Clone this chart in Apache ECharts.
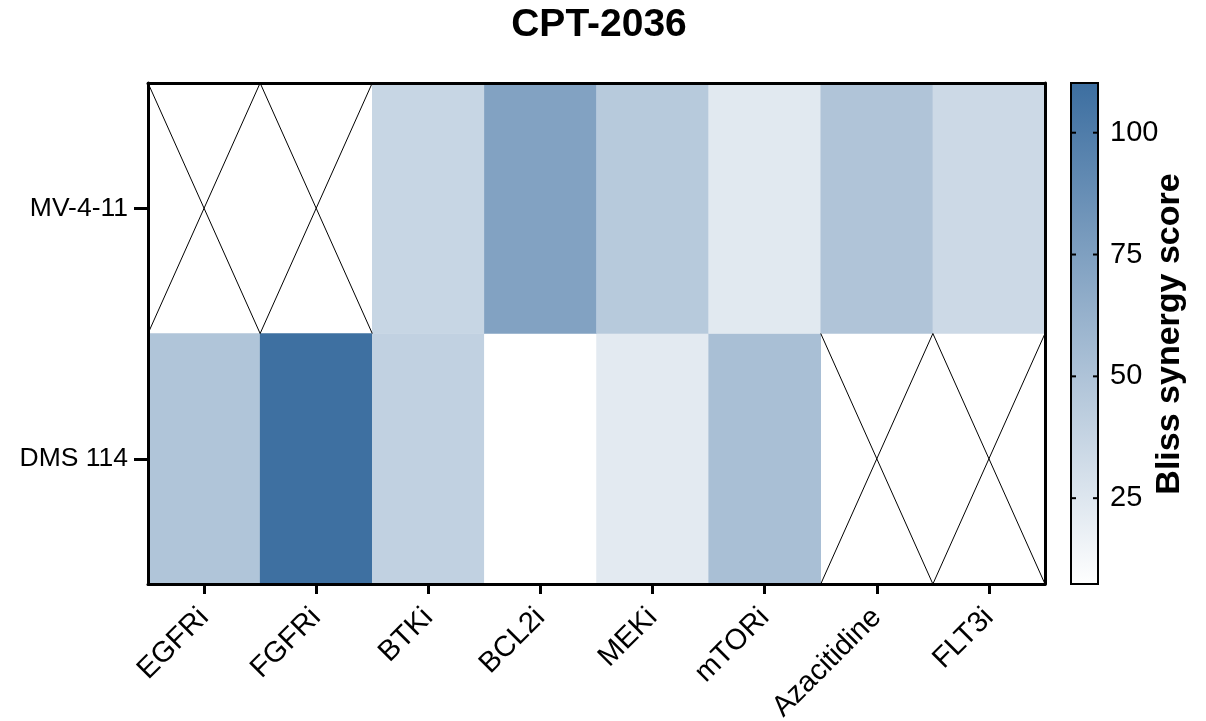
<!DOCTYPE html>
<html>
<head>
<meta charset="utf-8">
<script src="https://cdn.jsdelivr.net/npm/echarts@6/dist/echarts.min.js"></script>
<style>html,body{margin:0;padding:0;background:#fff;}#c{width:1206px;height:721px;}</style>
</head>
<body>
<div id="c"></div>
<script>
const titleText = 'CPT-2036';
const drugs = ['EGFRi', 'FGFRi', 'BTKi', 'BCL2i', 'MEKi', 'mTORi', 'Azacitidine', 'FLT3i'];
const cellLines = ['DMS 114', 'MV-4-11'];
const mv411 = [null, null, 36.8, 73.5, 45.1, 23.1, 49.3, 34.1];
const dms114 = [48.8, 109, 39.9, 7.4, 22.1, 52.5, null, null];
const scaleMin = 7.4;
const scaleMax = 110.2;
const colorTicks = [25, 50, 75, 100];
const colorbarTitle = 'Bliss synergy score';

const rows = { 'MV-4-11': mv411, 'DMS 114': dms114 };
const heatData = [];
const missing = [];
cellLines.forEach(function (cl) {
  rows[cl].forEach(function (v, i) {
    if (v === null) missing.push([i, cl]);
    else heatData.push([i, cl, v]);
  });
});

const FONT = 'Liberation Sans, Arial, sans-serif';
const chart = echarts.init(document.getElementById('c'));
chart.setOption({
  backgroundColor: '#fff',
  animation: false,
  title: {
    text: titleText, left: 594, top: 1, textAlign: 'center',
    textStyle: { fontFamily: FONT, fontWeight: 'bold', fontSize: 39, color: '#000' }
  },
  grid: [
    { left: 148, right: 161, top: 83, bottom: 137, containLabel: false, outerBoundsMode: 'none' },
    { left: 1071, width: 27, top: 83, bottom: 101, containLabel: false, outerBoundsMode: 'none' }
  ],
  xAxis: [
    {
      type: 'category', data: drugs, gridIndex: 0, position: 'bottom', z: 10,
      axisLine: { show: true, lineStyle: { color: '#000', width: 3 } },
      axisTick: { show: true, alignWithLabel: true, length: 10, lineStyle: { color: '#000', width: 3 } },
      axisLabel: { rotate: 45, margin: 29, fontFamily: FONT, fontSize: 29, color: '#000', interval: 0 },
      splitLine: { show: false }
    },
    {
      type: 'category', data: drugs, gridIndex: 0, position: 'top', z: 10,
      axisLine: { show: true, lineStyle: { color: '#000', width: 3 } },
      axisTick: { show: false }, axisLabel: { show: false }, splitLine: { show: false }
    },
    {
      type: 'value', gridIndex: 1, min: 0, max: 1, show: false
    }
  ],
  yAxis: [
    {
      type: 'category', data: cellLines, gridIndex: 0, position: 'left', z: 10,
      axisLine: { show: true, lineStyle: { color: '#000', width: 3 } },
      axisTick: { show: true, alignWithLabel: true, length: 14, lineStyle: { color: '#000', width: 3 } },
      axisLabel: { margin: 20, fontFamily: FONT, fontSize: 26.5, color: '#000' },
      splitLine: { show: false }
    },
    {
      type: 'category', data: cellLines, gridIndex: 0, position: 'right', z: 10,
      axisLine: { show: true, lineStyle: { color: '#000', width: 3 } },
      axisTick: { show: false }, axisLabel: { show: false }, splitLine: { show: false }
    },
    {
      type: 'value', gridIndex: 1, min: 0, max: scaleMax, interval: 25, position: 'right',
      axisLine: { show: false }, axisTick: { show: false }, splitLine: { show: false },
      axisLabel: {
        margin: 12, fontFamily: FONT, fontSize: 29, color: '#000',
        formatter: function (v) { return colorTicks.indexOf(v) >= 0 ? String(v) : ''; }
      }
    }
  ],
  visualMap: {
    show: false, type: 'continuous', min: scaleMin, max: scaleMax, seriesIndex: 0,
    inRange: { color: ['#ffffff', '#3c6ea0'] }
  },
  graphic: [{
    type: 'text', x: 1170, y: 334, rotation: Math.PI / 2,
    style: {
      text: colorbarTitle, fontFamily: FONT, fontWeight: 'bold', fontSize: 34, fill: '#000',
      align: 'center', verticalAlign: 'middle'
    }
  }],
  series: [
    {
      type: 'heatmap', xAxisIndex: 0, yAxisIndex: 0, data: heatData,
      itemStyle: { borderWidth: 0 }, emphasis: { disabled: true }
    },
    {
      type: 'custom', xAxisIndex: 0, yAxisIndex: 0, data: missing, z: 3,
      renderItem: function (params, api) {
        const p = api.coord([api.value(0), api.value(1)]);
        const s = api.size([1, 1]);
        const x0 = p[0] - s[0] / 2, x1 = p[0] + s[0] / 2;
        const y0 = p[1] - s[1] / 2, y1 = p[1] + s[1] / 2;
        return {
          type: 'group', children: [
            { type: 'line', shape: { x1: x0, y1: y0, x2: x1, y2: y1 }, style: { stroke: '#000', lineWidth: 1 } },
            { type: 'line', shape: { x1: x0, y1: y1, x2: x1, y2: y0 }, style: { stroke: '#000', lineWidth: 1 } }
          ]
        };
      }
    },
    {
      type: 'custom', xAxisIndex: 2, yAxisIndex: 2, data: [[0, scaleMin, scaleMax]],
      renderItem: function (params, api) {
        const lo = api.coord([0, api.value(1)]);
        const hi = api.coord([1, api.value(2)]);
        const x = lo[0], w = hi[0] - lo[0];
        const yTop = hi[1], h = lo[1] - hi[1];
        const children = [{
          type: 'rect', shape: { x: x, y: yTop, width: w, height: h },
          style: {
            fill: new echarts.graphic.LinearGradient(0, 0, 0, 1, [
              { offset: 0, color: '#3c6ea0' }, { offset: 1, color: '#ffffff' }
            ]),
            stroke: '#000', lineWidth: 2
          }
        }];
        colorTicks.forEach(function (t) {
          const py = api.coord([0, t])[1];
          children.push({ type: 'line', shape: { x1: x, y1: py, x2: x + 5, y2: py }, style: { stroke: '#000', lineWidth: 2 } });
          children.push({ type: 'line', shape: { x1: x + w - 5, y1: py, x2: x + w, y2: py }, style: { stroke: '#000', lineWidth: 2 } });
        });
        return { type: 'group', children: children };
      }
    }
  ]
});
</script>
</body>
</html>
